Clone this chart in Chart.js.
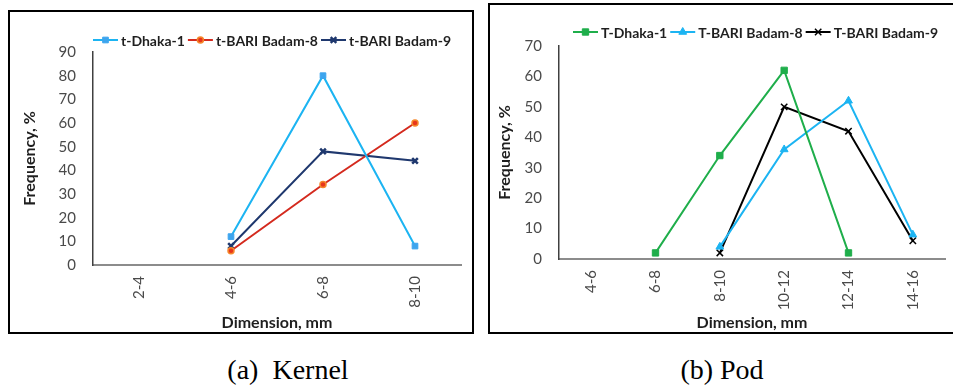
<!DOCTYPE html>
<html>
<head>
<meta charset="utf-8">
<script src="https://cdn.jsdelivr.net/npm/chart.js@4/dist/chart.umd.min.js"></script>
<style>
  html, body { margin: 0; padding: 0; background: #fff; }
  body { width: 953px; height: 386px; position: relative; overflow: hidden; }
  .box { position: absolute; border: 2px solid #000; box-sizing: border-box; }
  .box canvas { position: absolute; left: 0; top: 0; }
  .cap { position: absolute; font-family: "Liberation Serif", serif; font-size: 28px; line-height: 32px;
         text-align: center; color: #000; white-space: pre; }
</style>
</head>
<body>
<div class="box" style="left:8px; top:10px; width:466px; height:324px;">
  <canvas id="kernel" width="462" height="320"></canvas>
</div>
<div class="box" style="left:488px; top:3px; width:480px; height:331px;">
  <canvas id="pod" width="461" height="327"></canvas>
</div>
<div class="cap" style="left:188px; top:354px; width:200px;">(a)  Kernel</div>
<div class="cap" style="left:622px; top:354px; width:200px;">(b) Pod</div>

<script>
// kernel data
const kernelLabels = ['2-4', '4-6', '6-8', '8-10'];
const kernelDhaka1 = [null, 12, 80, 8];
const kernelBadam8 = [null, 6, 34, 60];
const kernelBadam9 = [null, 8, 48, 44];

// pod data
const podLabels = ['4-6', '6-8', '8-10', '10-12', '12-14', '14-16'];
const podDhaka1 = [null, 2, 34, 62, 2, null];
const podBadam8 = [null, null, 4, 36, 52, 8];
const podBadam9 = [null, null, 2, 50, 42, 6];

const FONT = 'Lato';

// legend like Excel: short line with the marker in the middle, then the name
const lineLegend = {
  id: 'lineLegend',
  afterDraw(chart, args, opts) {
    const ctx = chart.ctx;
    ctx.save();
    ctx.font = 'bold 14px ' + FONT;
    ctx.textBaseline = 'middle';
    let x = opts.x;
    const y = opts.y;
    chart.data.datasets.forEach(ds => {
      ctx.strokeStyle = ds.borderColor;
      ctx.lineWidth = 2;
      ctx.beginPath();
      ctx.moveTo(x, y);
      ctx.lineTo(x + 25, y);
      ctx.stroke();
      ctx.fillStyle = ds.pointBackgroundColor;
      ctx.strokeStyle = ds.pointBorderColor;
      ctx.lineWidth = ds.pointBorderWidth;
      Chart.helpers.drawPoint(ctx, {
        pointStyle: ds.pointStyle, radius: ds.pointRadius,
        borderWidth: ds.pointBorderWidth, rotation: 0
      }, x + 12.5, y);
      ctx.fillStyle = '#1f1f1f';
      ctx.fillText(ds.label, x + 28, y + 1);
      x += 28 + ctx.measureText(ds.label).width + 3;
    });
    ctx.restore();
  }
};

function makeChart(id, labels, datasets, yMax, yWidth, xHeight, pad, legendPos, yTitlePad) {
  return new Chart(document.getElementById(id), {
    type: 'line',
    data: { labels: labels, datasets: datasets },
    plugins: [lineLegend],
    options: {
      responsive: false,
      animation: false,
      layout: { padding: pad },
      plugins: {
        legend: { display: false },
        tooltip: { enabled: false },
        lineLegend: legendPos
      },
      scales: {
        x: {
          offset: true,
          ticks: { minRotation: 90, maxRotation: 90, color: '#4a4a4a',
                   font: { family: FONT, size: 15 }, padding: 11 },
          grid: { display: false, drawTicks: false },
          border: { display: true, color: '#8c8c8c', width: 2 },
          title: { display: true, text: 'Dimension, mm', color: '#1f1f1f',
                   font: { family: FONT, size: 16, weight: 'bold' }, padding: { top: 0, bottom: 0 } },
          afterFit(s) { s.height = xHeight; }
        },
        y: {
          min: 0, max: yMax,
          ticks: { stepSize: 10, color: '#4a4a4a', font: { family: FONT, size: 15 }, padding: 17 },
          grid: { display: false, drawTicks: false },
          border: { display: true, color: '#404040', width: 1.5 },
          title: { display: true, text: 'Frequency, %', color: '#1f1f1f',
                   font: { family: FONT, size: 16, weight: 'bold' }, padding: { top: yTitlePad, bottom: 0 } },
          afterFit(s) { s.width = yWidth; }
        }
      }
    }
  });
}

function series(label, data, color, style, radius, bg, border, bw) {
  return {
    label: label, data: data, borderColor: color, borderWidth: 2, tension: 0,
    pointStyle: style, pointRadius: radius, pointBackgroundColor: bg,
    pointBorderColor: border, pointBorderWidth: bw
  };
}

makeChart('kernel', kernelLabels, [
  series('t-Dhaka-1', kernelDhaka1, '#1CB4F2', 'rect', 4, '#3DA5EE', '#3DA5EE', 1),
  series('t-BARI Badam-8', kernelBadam8, '#D42A1E', 'circle', 3, '#E8361C', '#F5872A', 1.5),
  series('t-BARI Badam-9', kernelBadam9, '#1F386E', 'crossRot', 4, '#1F386E', '#1F386E', 2.5)
], 90, 83, 67, { top: 40, right: 11, left: 0, bottom: 0 }, { x: 83, y: 28 }, 10);

makeChart('pod', podLabels, [
  series('T-Dhaka-1', podDhaka1, '#1FAE4B', 'rect', 4.5, '#1FAE4B', '#1FAE4B', 1),
  series('T-BARI Badam-8', podBadam8, '#1CB4F2', 'triangle', 4.5, '#1CB4F2', '#1CB4F2', 1),
  series('T-BARI Badam-9', podBadam9, '#000000', 'crossRot', 4.5, '#000000', '#000000', 1.5)
], 70, 69, 73, { top: 41, right: 2, left: 0, bottom: 0 }, { x: 83, y: 27 }, 5);
</script>
</body>
</html>
